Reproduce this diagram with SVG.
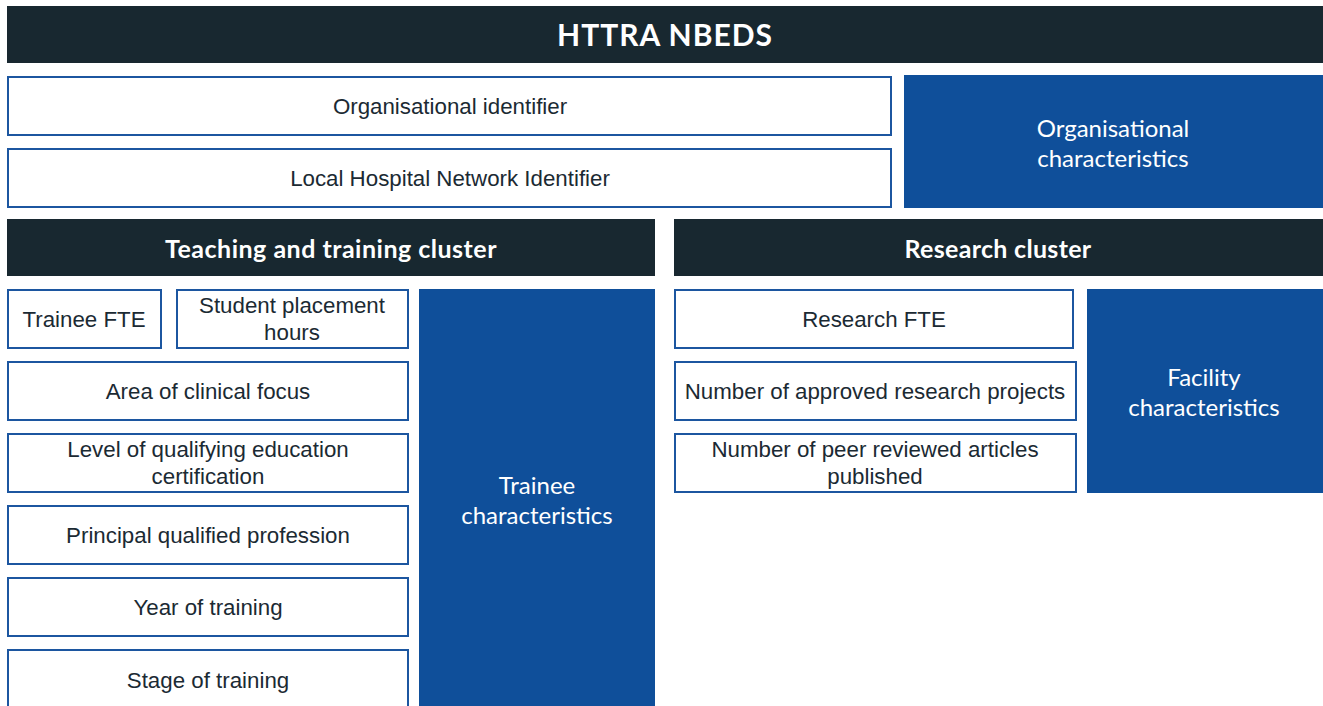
<svg xmlns="http://www.w3.org/2000/svg" width="1323" height="706" viewBox="0 0 1323 706">
<style>
.hdr{fill:#182830}
.hdrt{font-family:Lato,"Open Sans",sans-serif;font-weight:700;fill:#fff;text-anchor:middle}
.box{fill:#fff;stroke:#1c56a0;stroke-width:2}
.bt{font-family:"Liberation Sans",Arial,sans-serif;font-size:22.3px;fill:#1b2a33;text-anchor:middle}
.blue{fill:#0f4f9a}
.blt{font-family:Lato,"Noto Sans",sans-serif;font-size:24px;fill:#fff;text-anchor:middle}
</style>
<rect width="1323" height="706" fill="#fff"/>
<g id="title"><rect class="hdr" x="7" y="6" width="1316" height="57"/><text class="hdrt" x="665" y="46" font-size="30" letter-spacing="1">HTTRA NBEDS</text></g>
<g id="org-id"><rect class="box" x="8" y="77" width="883" height="58"/><text class="bt" x="450" y="114">Organisational identifier</text></g>
<g id="lhn-id"><rect class="box" x="8" y="149" width="883" height="58"/><text class="bt" x="450" y="186">Local Hospital Network Identifier</text></g>
<g id="org-char"><rect class="blue" x="904" y="75" width="419" height="133"/><text class="blt" x="1113" y="137">Organisational</text><text class="blt" x="1113" y="167">characteristics</text></g>
<g id="teaching"><rect class="hdr" x="7" y="219" width="648" height="57"/><text class="hdrt" x="331" y="258" font-size="25" letter-spacing="0.5">Teaching and training cluster</text></g>
<g id="research"><rect class="hdr" x="674" y="219" width="649" height="57"/><text class="hdrt" x="998" y="258" font-size="25" letter-spacing="0.3">Research cluster</text></g>
<g id="trainee-fte"><rect class="box" x="8" y="290" width="153" height="58"/><text class="bt" x="84" y="327">Trainee FTE</text></g>
<g id="student-hours"><rect class="box" x="177" y="290" width="231" height="58"/><text class="bt" x="292" y="313">Student placement</text><text class="bt" x="292" y="340">hours</text></g>
<g id="area"><rect class="box" x="8" y="362" width="400" height="58"/><text class="bt" x="208" y="399">Area of clinical focus</text></g>
<g id="level"><rect class="box" x="8" y="434" width="400" height="58"/><text class="bt" x="208" y="457">Level of qualifying education</text><text class="bt" x="208" y="484">certification</text></g>
<g id="principal"><rect class="box" x="8" y="506" width="400" height="58"/><text class="bt" x="208" y="543">Principal qualified profession</text></g>
<g id="year"><rect class="box" x="8" y="578" width="400" height="58"/><text class="bt" x="208" y="615">Year of training</text></g>
<g id="stage"><rect class="box" x="8" y="650" width="400" height="60"/><text class="bt" x="208" y="688">Stage of training</text></g>
<g id="trainee-char"><rect class="blue" x="419" y="289" width="236" height="417"/><text class="blt" x="537" y="494">Trainee</text><text class="blt" x="537" y="524">characteristics</text></g>
<g id="research-fte"><rect class="box" x="675" y="290" width="398" height="58"/><text class="bt" x="874" y="327">Research FTE</text></g>
<g id="approved"><rect class="box" x="675" y="362" width="401" height="58"/><text class="bt" x="875" y="399">Number of approved research projects</text></g>
<g id="peer"><rect class="box" x="675" y="434" width="401" height="58"/><text class="bt" x="875" y="457">Number of peer reviewed articles</text><text class="bt" x="875" y="484">published</text></g>
<g id="facility-char"><rect class="blue" x="1087" y="289" width="236" height="204"/><text class="blt" x="1204" y="386">Facility</text><text class="blt" x="1204" y="416">characteristics</text></g>
<g id="connectors"/>
</svg>
